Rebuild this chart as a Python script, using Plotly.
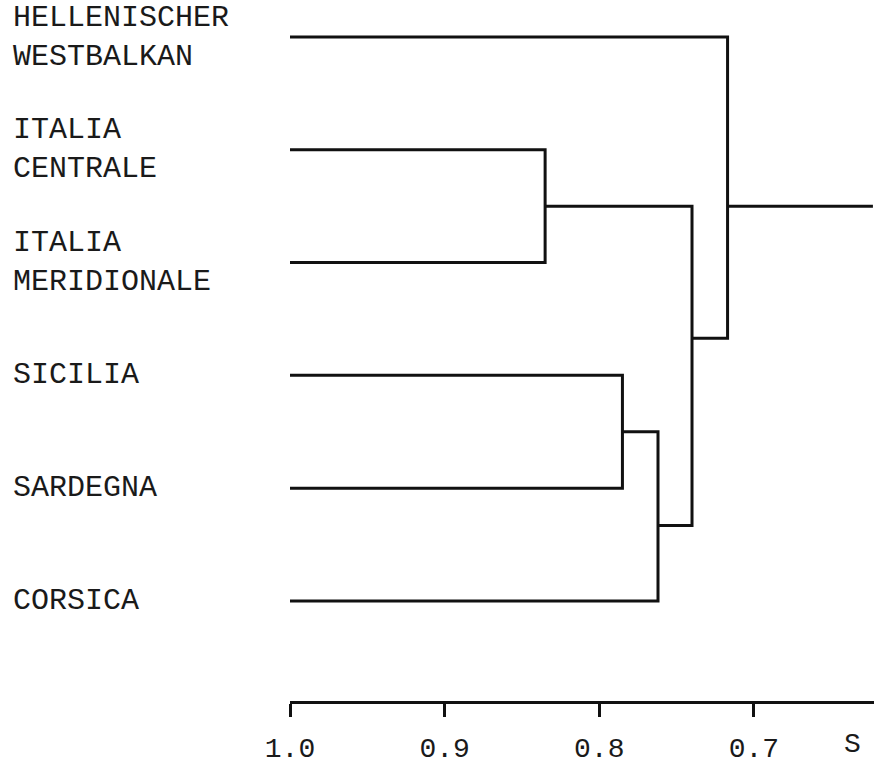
import plotly.graph_objects as go

# ---- data ----
leaf_labels = ["HELLENISCHER<br>WESTBALKAN", "ITALIA<br>CENTRALE", "ITALIA<br>MERIDIONALE",
               "SICILIA", "SARDEGNA", "CORSICA"]
leaf_similarity = 1.0
# merges: ids of the two joined clusters (leaves 0-5, new clusters 6,7,...)
merge_left = [1, 3, 7, 6, 0]
merge_right = [2, 4, 5, 8, 9]
merge_similarity = [0.835, 0.785, 0.762, 0.740, 0.717]
merge_row = [1.5, 3.5, 4.33, 2.67, 1.5]   # row (in leaf units) where the link leaves the bracket
root_tail_similarity = 0.623
tick_values = [1.0, 0.9, 0.8, 0.7]
tick_labels = ["1.0", "0.9", "0.8", "0.7"]
axis_title = "S"

# ---- build dendrogram segments ----
node_x = [leaf_similarity] * len(leaf_labels)
node_y = list(range(len(leaf_labels)))
xs, ys = [], []
for a, b, s, r in zip(merge_left, merge_right, merge_similarity, merge_row):
    xs += [node_x[a], s, s, node_x[b], None]
    ys += [node_y[a], node_y[a], node_y[b], node_y[b], None]
    node_x.append(s)
    node_y.append(r)
xs += [node_x[-1], root_tail_similarity, None]
ys += [node_y[-1], node_y[-1], None]

FONT = "Liberation Mono, Courier New, monospace"
W, H = 874, 764
ML, MR, MT, MB = 290, 0, 0, 63

fig = go.Figure()
fig.add_trace(go.Scatter(x=xs, y=ys, mode="lines",
                         line=dict(color="#111111", width=3),
                         hoverinfo="skip", showlegend=False))

plot_w = W - ML - MR
plot_h = H - MT - MB
annotations = []
for i, lab in enumerate(leaf_labels):
    annotations.append(dict(text=lab, xref="paper", yref="y",
                            x=(11 - ML) / plot_w, y=i, xanchor="left", yanchor="middle",
                            align="left", showarrow=False,
                            font=dict(family=FONT, size=30, color="#1a1a1a")))
annotations.append(dict(text=axis_title, xref="paper", yref="paper",
                        x=(852 - ML) / plot_w, y=-(762 - plot_h) / plot_h,
                        xanchor="center", yanchor="bottom", showarrow=False,
                        font=dict(family=FONT, size=28, color="#1a1a1a")))

fig.update_layout(
    width=W, height=H,
    margin=dict(l=ML, r=MR, t=MT, b=MB, pad=0),
    paper_bgcolor="white", plot_bgcolor="white",
    showlegend=False,
    annotations=annotations,
    xaxis=dict(range=[1.0, 0.6223], showgrid=False, zeroline=False,
               showline=True, linecolor="#111111", linewidth=3,
               ticks="outside", ticklen=13, tickwidth=3, tickcolor="#111111",
               tickvals=tick_values, ticktext=tick_labels, ticklabelstandoff=6,
               tickfont=dict(family=FONT, size=28, color="#1a1a1a")),
    yaxis=dict(range=[5.887, -0.328], visible=False, showgrid=False, zeroline=False),
)

fig.write_html("out.html", config={"displayModeBar": False},
               post_script="document.body.style.margin='0';")
